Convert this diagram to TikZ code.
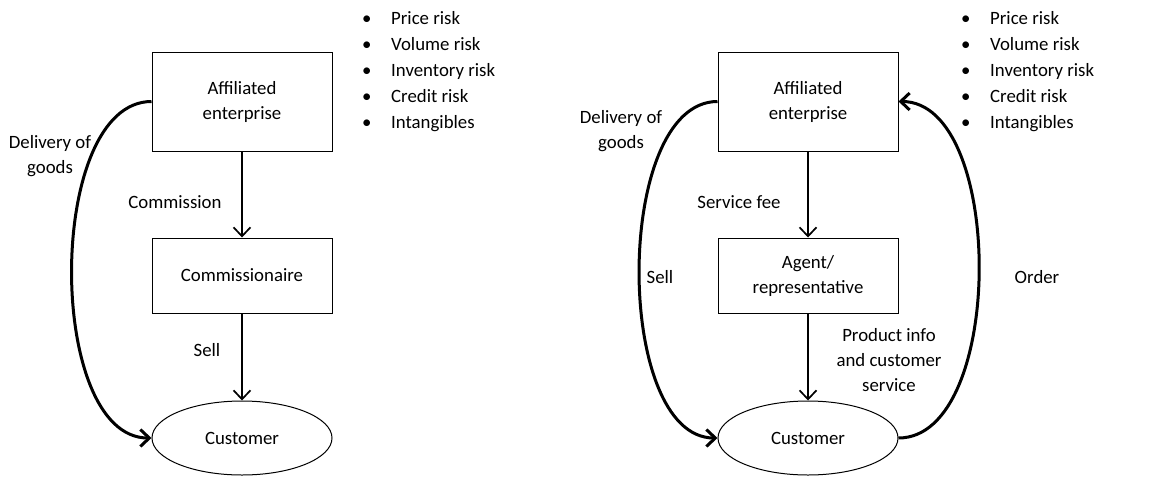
\documentclass[tikz,border=0pt]{standalone}
\usepackage{fontspec}
\setmainfont{Carlito}
\usetikzlibrary{arrows.meta,shapes.geometric}

\tikzset{
  box/.style={draw, line width=1pt, minimum width=180pt, inner sep=0pt, align=center},
  cust/.style={draw, ellipse, line width=1pt, minimum width=180pt, minimum height=74pt, inner sep=0pt},
  lbl/.style={align=center, inner sep=0pt},
  flow/.style={line width=1.7pt, -{Straight Barb[length=9pt,width=17pt]}},
  loop/.style={line width=3pt, -{Straight Barb[length=9pt,width=17pt]}},
  risk/.style={anchor=base west, inner sep=0pt},
}

\begin{document}
\begin{tikzpicture}[x=1pt, y=-1pt, font=\fontsize{18.8}{25}\selectfont]
  \useasboundingbox (0,0) rectangle (1156,477);

  % ---- commissionaire structure ----
  \node[box, minimum height=99pt] (ae1) at (242,101.5) {Affiliated\\enterprise};
  \node[box, minimum height=75pt] (cm1) at (242,275.5) {Commissionaire};
  \node[cust] (cu1) at (242,438) {Customer};

  \draw[flow] (ae1.south) -- (cm1.north);
  \draw[flow] (cm1.south) -- (cu1.north);
  \draw[loop] (ae1.west) .. controls +(-106,0) and +(-106,0) .. (cu1.west);

  \node[lbl] (l1) at (175,202) {Commission};
  \node[lbl] (l2) at (207,350) {Sell};
  \node[lbl] (l3) at (50,156) {Delivery of\\goods};

  \foreach \t [count=\i] in {Price risk, Volume risk, Inventory risk, Credit risk, Intangibles}
    \node[risk] (ra\i) at (362,{24+26*(\i-1)}) {\makebox[29pt][l]{\textbullet}\t};

  % ---- agent / representative structure ----
  \node[box, minimum height=99pt] (ae2) at (808,101.5) {Affiliated\\enterprise};
  \node[box, minimum height=75pt] (ag2) at (808,275.5) {Agent/\\representative};
  \node[cust] (cu2) at (808,438) {Customer};

  \draw[flow] (ae2.south) -- (ag2.north);
  \draw[flow] (ag2.south) -- (cu2.north);
  \draw[loop] (ae2.west) .. controls +(-104,0) and +(-104,0) .. (cu2.west);
  \draw[loop] (cu2.east) .. controls +(107,0) and +(107,0) .. (ae2.east);

  \node[lbl] (m1) at (739,202) {Service fee};
  \node[lbl] (m2) at (660,277) {Sell};
  \node[lbl] (m3) at (1037,277) {Order};
  \node[lbl] (m4) at (621,131) {Delivery of\\goods};
  \node[lbl] (m5) at (889,360) {Product info\\and customer\\service};

  \foreach \t [count=\i] in {Price risk, Volume risk, Inventory risk, Credit risk, Intangibles}
    \node[risk] (rb\i) at (961,{24+26*(\i-1)}) {\makebox[29pt][l]{\textbullet}\t};
\end{tikzpicture}
\end{document}
